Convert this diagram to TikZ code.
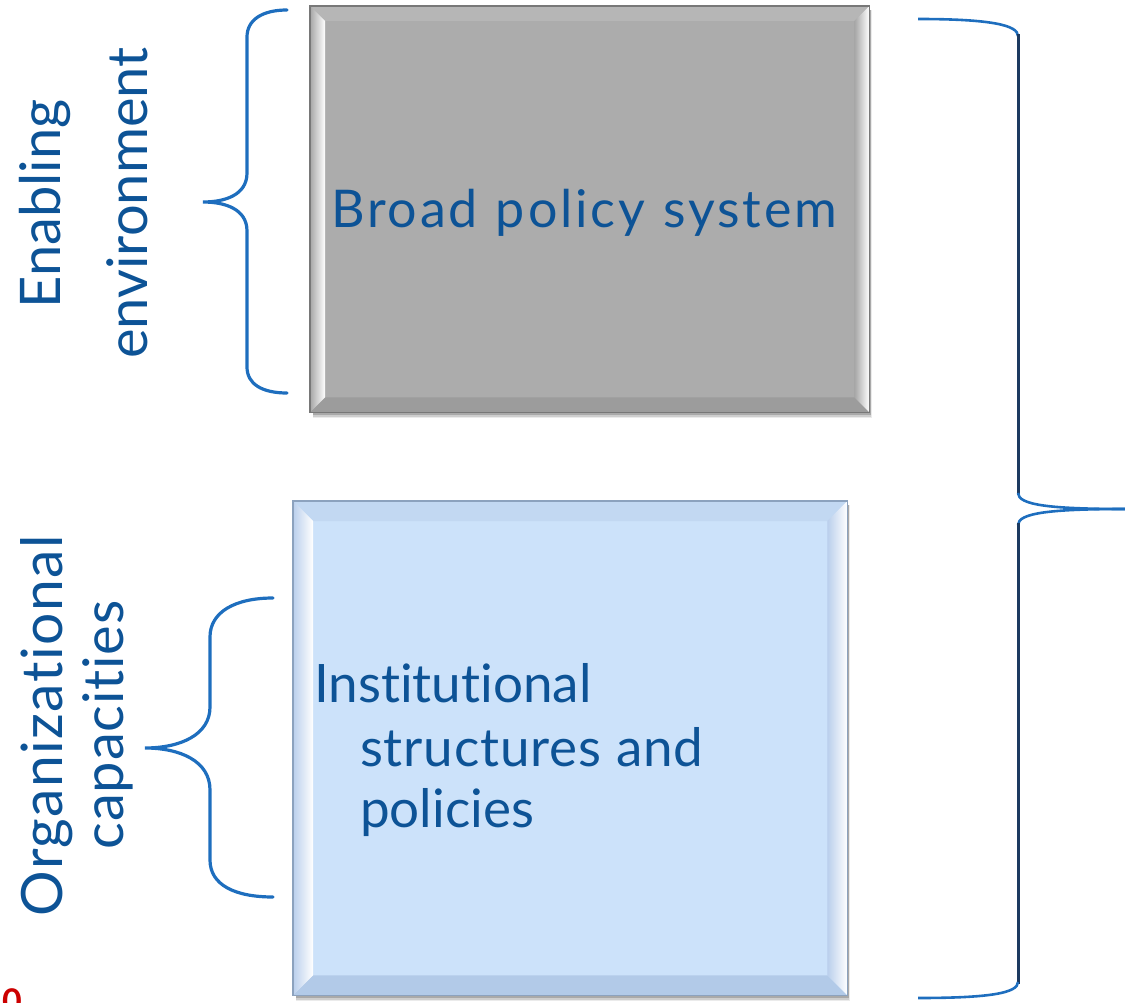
\documentclass[tikz,border=0pt]{standalone}
\usepackage{fontspec}
\setmainfont{Lato}[Ligatures=NoCommon]
\usetikzlibrary{calc}
\definecolor{txt}{RGB}{13,83,150}
\definecolor{brc}{RGB}{30,110,190}
\definecolor{navy}{RGB}{28,58,96}
\definecolor{gfill}{RGB}{172,172,172}
\definecolor{gtop}{RGB}{182,182,182}
\definecolor{gbot}{RGB}{156,156,156}
\definecolor{gside}{RGB}{166,166,166}
\definecolor{gedge}{RGB}{120,120,120}
\definecolor{bfill}{RGB}{204,226,250}
\definecolor{btop}{RGB}{194,216,242}
\definecolor{bbot}{RGB}{178,202,232}
\definecolor{bside}{RGB}{186,207,236}
\definecolor{bedge}{RGB}{140,162,190}
\newcommand\bevelpanel[6]{%
  \fill[#3] (#1.north west) -- (#1.north east) -- ($(#1.north east)+(-#2,#2)$) -- ($(#1.north west)+(#2,#2)$) -- cycle;
  \fill[#4] (#1.south west) -- (#1.south east) -- ($(#1.south east)+(-#2,-#2)$) -- ($(#1.south west)+(#2,-#2)$) -- cycle;
  \shade[left color=#5, middle color=#5, right color=white] (#1.north west) -- ($(#1.north west)+(#2,#2)$) -- ($(#1.south west)+(#2,-#2)$) -- (#1.south west) -- cycle;
  \shade[left color=#5, middle color=#5!60!white, right color=white] ($(#1.north east)+(-#2,#2)$) -- (#1.north east) -- (#1.south east) -- ($(#1.south east)+(-#2,-#2)$) -- cycle;
  \draw[#6, line width=1.5pt] (#1.north west) rectangle (#1.south east);
}
\tikzset{
  panel/.style={rectangle, inner sep=0pt, anchor=north west},
  boxtext/.style={text=txt, inner sep=0pt, anchor=base west},
  sidetext/.style={text=txt, inner sep=0pt, anchor=base, rotate=90},
  smallbrace/.style={draw=brc, line width=3.2pt, line cap=round},
  bigend/.style={draw=brc, line width=2.6pt},
  bigmid/.style={draw=navy, line width=3pt},
}
\begin{document}
\begin{tikzpicture}[x=1pt,y=-1pt]
\useasboundingbox (0,0) rectangle (1125,1003);
\begin{scope}
\clip (0,0) rectangle (1125,1003);
% shadows
\foreach \o/\a in {6/0.08,4.5/0.12,3/0.18}{
  \fill[black, opacity=\a] (313,10) rectangle (869+\o*0.5,412+\o);
  \fill[black, opacity=\a] (296,505) rectangle (847+\o*0.5,995+\o);
}
% top box
\node[panel, fill=gfill, minimum width=559pt, minimum height=406pt] (pol) at (310,6) {};
\bevelpanel{pol}{15}{gtop}{gbot}{gside}{gedge}
% bottom box
\node[panel, fill=bfill, minimum width=554pt, minimum height=494pt] (ins) at (293,501) {};
\bevelpanel{ins}{20}{btop}{bbot}{bside}{bedge}
% texts in boxes
\node[boxtext, font=\fontsize{52}{60}\selectfont\addfontfeature{LetterSpace=5.5}] (t1) at (331,228) {Broad\hspace{18pt}policy\hspace{18pt}system};
\node[boxtext, font=\fontsize{53}{60}\selectfont] (t2a) at (314,702) {Institutional};
\node[boxtext, font=\fontsize{53}{60}\selectfont\addfontfeature{LetterSpace=1.5}] (t2b) at (360,766) {structures\hspace{15pt}and};
\node[boxtext, font=\fontsize{53}{60}\selectfont] (t2c) at (360,827) {policies};
% side labels
\node[sidetext, font=\fontsize{56}{60}\selectfont] (l1a) at (60,204) {Enabling};
\node[sidetext, font=\fontsize{56}{60}\selectfont] (l1b) at (147,203) {environment};
\node[sidetext, font=\fontsize{57}{60}\selectfont\addfontfeature{LetterSpace=2.5}] (l2a) at (62,726) {Organizational};
\node[sidetext, font=\fontsize{56}{60}\selectfont\addfontfeature{LetterSpace=1.5}] (l2b) at (123,725) {capacities};
% small brace 1
\coordinate (b1t) at (287,10);
\coordinate (b1m) at (203,202);
\coordinate (b1b) at (287,393);
\draw[smallbrace] (b1t) .. controls (262,10) and (247,20) .. (247,37) -- (247,173)
  .. controls (247,195) and (225,202) .. (b1m)
  .. controls (225,202) and (247,209) .. (247,231) -- (247,367)
  .. controls (247,384) and (262,393) .. (b1b);
% small brace 2
\coordinate (b2t) at (273,598);
\coordinate (b2m) at (145,748);
\coordinate (b2b) at (273,897);
\draw[smallbrace] (b2t) .. controls (235,598) and (210,612) .. (210,637) -- (210,707)
  .. controls (210,735) and (180,748) .. (b2m)
  .. controls (180,748) and (210,761) .. (210,790) -- (210,860)
  .. controls (210,885) and (235,897) .. (b2b);
% big brace
\coordinate (bbt) at (918,19);
\coordinate (bbm) at (1126,509);
\coordinate (bbb) at (918,998);
\draw[bigend] (bbt) .. controls (990,19) and (1018,25) .. (1018,36);
\draw[bigmid] (1018,34) -- (1018,495);
\draw[bigend] (1018,493) .. controls (1018,505) and (1050,509) .. (bbm);
\draw[bigend] (bbm) .. controls (1050,509) and (1018,513) .. (1018,525);
\draw[bigmid] (1018,523) -- (1018,984);
\draw[bigend] (1018,982) .. controls (1018,993) and (990,998) .. (bbb);
% page number fragment
\node[anchor=north west, inner sep=0pt, text=red!80!black, font=\bfseries\fontsize{34}{40}\selectfont] (pg) at (2,988) {0};
\end{scope}
\end{tikzpicture}
\end{document}
